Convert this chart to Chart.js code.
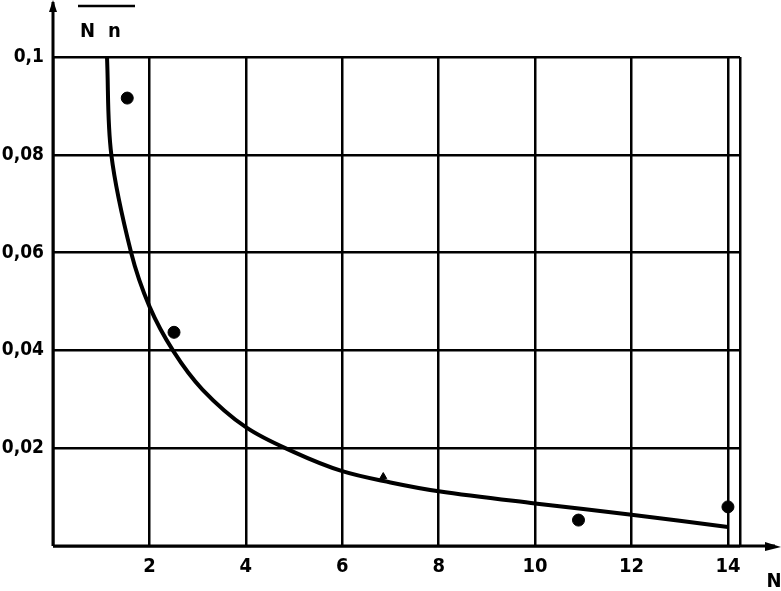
<!DOCTYPE html>
<html>
<head>
<meta charset="utf-8">
<script src="https://cdn.jsdelivr.net/npm/chart.js@4"></script>
<style>
    html, body { margin: 0; padding: 0; background: #fff; }
    #wrap { width: 781px; height: 591px; position: relative; }
</style>
</head>
<body>
<div id="wrap"><canvas id="chart"></canvas></div>
<script>
// values
const xTicks = [0, 2, 4, 6, 8, 10, 12, 14, 14.25];
const yTicks = [0, 0.02, 0.04, 0.06, 0.08, 0.1];

const curveX = [1.12, 1.21, 1.62, 2.0, 2.5, 3.1, 4.0, 5.0, 6.0, 7.0, 8.0, 10.0, 12.0, 14.0];
const curveY = [0.1, 0.08, 0.06, 0.049, 0.0398, 0.032, 0.0243, 0.0192, 0.0153, 0.013, 0.0112, 0.0087, 0.0064, 0.0039];

const pointX = [1.54, 2.51, 10.9, 14.0];
const pointY = [0.0916, 0.0437, 0.0053, 0.008];

const markX = [6.85];
const markY = [0.0142];

const FONT = "'DejaVu Sans Condensed', 'DejaVu Sans', sans-serif";

const toXY = (xs, ys) => xs.map((x, i) => ({ x: x, y: ys[i] }));

const axesArrows = {
    id: 'axesArrows',
    afterDraw(chart) {
        const ctx = chart.ctx;
        const area = chart.chartArea;
        const x0 = area.left, y0 = area.bottom;
        ctx.save();
        ctx.strokeStyle = '#000';
        ctx.fillStyle = '#000';
        ctx.lineWidth = 3;
        // y axis up to the top edge
        ctx.beginPath();
        ctx.moveTo(x0, y0);
        ctx.lineTo(x0, 2);
        ctx.stroke();
        ctx.beginPath();
        ctx.moveTo(x0, 0);
        ctx.lineTo(x0 - 4, 12);
        ctx.lineTo(x0 + 4, 12);
        ctx.closePath();
        ctx.fill();
        // x axis to the right edge
        ctx.beginPath();
        ctx.moveTo(x0, y0);
        ctx.lineTo(775, y0);
        ctx.stroke();
        ctx.beginPath();
        ctx.moveTo(781, y0 + 1);
        ctx.lineTo(765, y0 - 4);
        ctx.lineTo(765, y0 + 5);
        ctx.closePath();
        ctx.fill();

        // axis names
        ctx.font = 'bold 20px ' + FONT;
        ctx.textBaseline = 'alphabetic';
        ctx.textAlign = 'left';
        ctx.fillText('N', 80, 37);
        ctx.fillText('n', 108, 37);
        ctx.lineWidth = 2.5;
        ctx.beginPath();
        ctx.moveTo(78, 6);
        ctx.lineTo(135, 6);
        ctx.stroke();
        ctx.textAlign = 'center';
        ctx.fillText('N', 774, 587);
        ctx.restore();
    }
};

new Chart(document.getElementById('chart'), {
    type: 'scatter',
    data: {
        datasets: [{
            label: 'curve',
            data: toXY(curveX, curveY),
            showLine: true,
            borderColor: '#000',
            borderWidth: 4,
            pointRadius: 0,
            tension: 0.35,
        }, {
            label: 'points',
            data: toXY(pointX, pointY),
            backgroundColor: '#000',
            borderColor: '#000',
            pointRadius: 6,
        }, {
            label: 'mark',
            data: toXY(markX, markY),
            backgroundColor: '#000',
            borderColor: '#000',
            pointStyle: 'triangle',
            pointRadius: 4,
        }],
    },
    options: {
        responsive: true,
        maintainAspectRatio: false,
        animation: false,
        layout: { padding: { top: 57, right: 41, left: 0, bottom: 0 } },
        plugins: {
            legend: { display: false },
            tooltip: { enabled: false },
        },
        scales: {
            x: {
                type: 'linear',
                min: 0,
                max: 14.25,
                afterBuildTicks: (scale) => { scale.ticks = xTicks.map(v => ({ value: v })); },
                afterFit: (scale) => { scale.height = 45; },
                border: { display: false },
                grid: { color: '#000', lineWidth: 2.5, drawTicks: false },
                ticks: {
                    color: '#000',
                    padding: 9,
                    maxRotation: 0,
                    autoSkip: false,
                    font: { family: FONT, size: 20, weight: 'bold' },
                    callback: (v) => (v === 0 || v > 14) ? '' : String(v),
                },
            },
            y: {
                min: 0,
                max: 0.1,
                afterBuildTicks: (scale) => { scale.ticks = yTicks.map(v => ({ value: v })); },
                afterFit: (scale) => { scale.width = 53; },
                border: { display: false },
                grid: { color: '#000', lineWidth: 2.5, drawTicks: false },
                ticks: {
                    color: '#000',
                    padding: 9,
                    font: { family: FONT, size: 19, weight: 'bold' },
                    callback: (v) => v === 0 ? '' : String(Math.round(v * 100) / 100).replace('.', ','),
                },
            },
        },
    },
    plugins: [axesArrows],
});
</script>
</body>
</html>
